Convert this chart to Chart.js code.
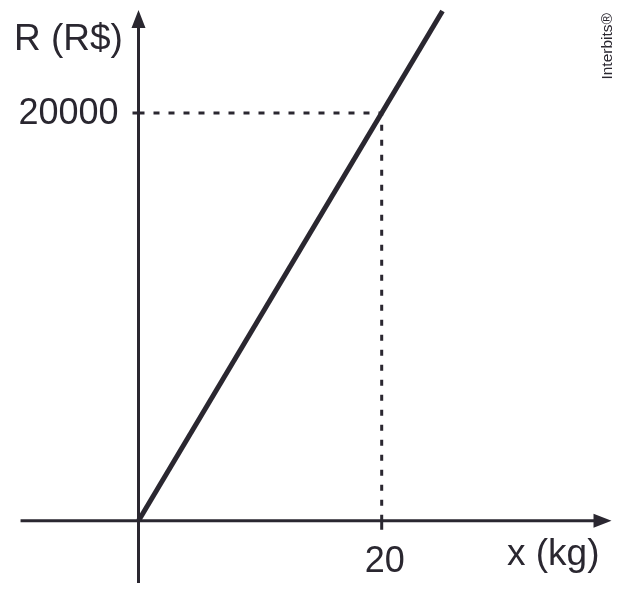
<!DOCTYPE html>
<html>
<head>
<meta charset="utf-8">
<script src="https://cdn.jsdelivr.net/npm/chart.js@4"></script>
<style>
  html, body { margin: 0; padding: 0; background: #fff; }
  #wrap { width: 630px; height: 600px; position: relative; }
</style>
</head>
<body>
<div id="wrap"><canvas id="chart"></canvas></div>
<script>
// revenue line R(x)
const massKg = [0, 25];
const revenue = [0, 25000];

// marked point and its labels
const markX = 20;
const markR = 20000;
const xTickLabels = ['20'];
const yTickLabels = ['20000'];

// axis extents (data units)
const xAxisRange = [-9.7, 38.9];
const yAxisRange = [-3060, 25050];

const ink = '#2a2730';
const font = '"Liberation Sans", Arial, sans-serif';

const linePoints = massKg.map((x, i) => ({ x, y: revenue[i] }));
const guidePoints = [
  { x: 0, y: markR },
  { x: markX, y: markR },
  { x: markX, y: 0 }
];

// axes with arrows, ticks and labels
const axesPlugin = {
  id: 'axes',
  beforeDatasetsDraw(chart) {
    const { ctx, scales: { x, y } } = chart;
    const x0 = x.getPixelForValue(0);
    const y0 = y.getPixelForValue(0);
    const xl = x.getPixelForValue(xAxisRange[0]);
    const xr = x.getPixelForValue(xAxisRange[1]);
    const yb = y.getPixelForValue(yAxisRange[0]);
    const yt = y.getPixelForValue(yAxisRange[1]);
    ctx.save();
    ctx.strokeStyle = ink;
    ctx.fillStyle = ink;
    ctx.lineWidth = 3;
    ctx.beginPath();
    ctx.moveTo(xl, y0); ctx.lineTo(xr - 12, y0);
    ctx.moveTo(x0, yb); ctx.lineTo(x0, yt + 12);
    ctx.stroke();
    // arrow heads
    ctx.beginPath();
    ctx.moveTo(xr, y0); ctx.lineTo(xr - 18, y0 - 7); ctx.lineTo(xr - 18, y0 + 7); ctx.closePath();
    ctx.moveTo(x0, yt); ctx.lineTo(x0 - 7, yt + 18); ctx.lineTo(x0 + 7, yt + 18); ctx.closePath();
    ctx.fill();
    // small ticks at the marked values
    const mx = x.getPixelForValue(markX);
    const my = y.getPixelForValue(markR);
    ctx.lineWidth = 3;
    ctx.beginPath();
    ctx.moveTo(x0 - 6, my); ctx.lineTo(x0, my);
    ctx.moveTo(mx, y0); ctx.lineTo(mx, y0 + 9);
    ctx.stroke();
    ctx.restore();
  },
  afterDraw(chart) {
    const { ctx, scales: { x, y } } = chart;
    const x0 = x.getPixelForValue(0);
    const y0 = y.getPixelForValue(0);
    ctx.save();
    ctx.fillStyle = ink;
    ctx.font = '36px ' + font;
    ctx.textBaseline = 'middle';
    ctx.textAlign = 'right';
    ctx.fillText(yTickLabels[0], x0 - 20, y.getPixelForValue(markR) + 1);
    ctx.textAlign = 'center';
    ctx.fillText(xTickLabels[0], x.getPixelForValue(markX) + 3, y0 + 41);
    ctx.font = '37px ' + font;
    ctx.textBaseline = 'alphabetic';
    ctx.textAlign = 'left';
    ctx.fillText('R (R$)', 14, 50);
    ctx.fillText('x (kg)', 507, 565);
    // watermark
    ctx.font = '15.5px ' + font;
    ctx.translate(612, 13);
    ctx.rotate(-Math.PI / 2);
    ctx.textAlign = 'right';
    ctx.fillText('Interbits®', 0, 0);
    ctx.restore();
  }
};

new Chart(document.getElementById('chart'), {
  type: 'line',
  data: {
    datasets: [
      {
        data: linePoints,
        borderColor: ink,
        borderWidth: 5,
        pointRadius: 0,
        borderCapStyle: 'butt',
        clip: false
      },
      {
        data: guidePoints,
        borderColor: ink,
        borderWidth: 3,
        borderDash: [6, 9],
        pointRadius: 0,
        clip: false
      }
    ]
  },
  options: {
    responsive: true,
    maintainAspectRatio: false,
    animation: false,
    layout: { padding: 0 },
    plugins: { legend: { display: false }, tooltip: { enabled: false } },
    scales: {
      x: { type: 'linear', min: -11.39, max: 40.42, display: false },
      y: { type: 'linear', min: -3890, max: 25543, display: false }
    }
  },
  plugins: [axesPlugin]
});
</script>
</body>
</html>
